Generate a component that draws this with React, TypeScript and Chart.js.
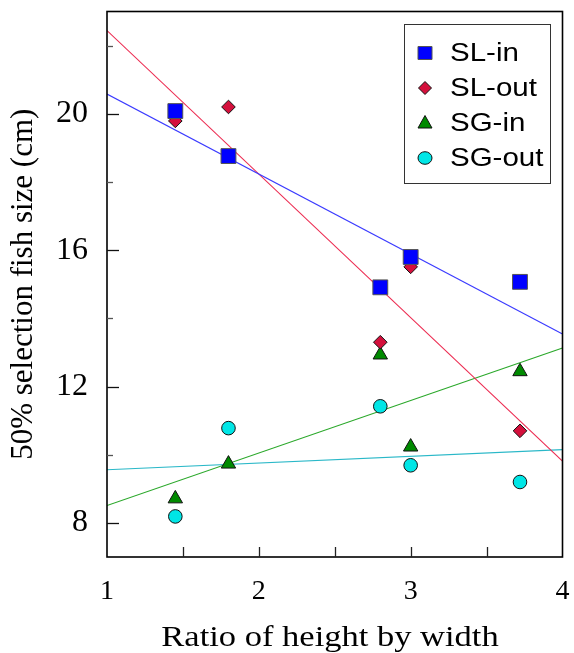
import React, { useEffect, useRef } from "react";
import { Chart, registerables } from "chart.js";

Chart.register(...registerables);

// Height-to-width ratio of the trap mesh (shared by all four groups)
const ratios = [1.45, 1.8, 2.8, 3.0, 3.72];

// 50% selection fish size (cm)
const slIn = [20.08, 18.76, 14.91, 15.8, 15.07];
const slOut = [19.79, 20.2, 13.3, 15.51, 10.7];
const sgIn = [8.71, 9.73, 12.93, 10.23, 12.44];
const sgOut = [8.19, 10.78, 11.42, 9.69, 9.2];

// Fitted regression lines, value at x = 1 and x = 4
const fitX = [1, 4];
const slInFit = [20.58, 13.54];
const slOutFit = [22.44, 9.81];
const sgInFit = [8.51, 13.13];
const sgOutFit = [9.56, 10.15];

// Axis ticks
const xTicks = [1, 2, 3, 4];
const xInnerTicks = [1.5, 2, 2.5, 3, 3.5];
const yMajorTicks = [8, 12, 16, 20];
const yMinorTicks = [10, 14, 18, 22];

const xTitle = "Ratio of height by width";
const yTitle = "50% selection fish size (cm)";

const series = [
  { label: "SL-in", values: slIn, fit: slInFit, style: "rect", fill: "#0000ff", edge: "#555555", line: "#3b3bff" },
  { label: "SL-out", values: slOut, fit: slOutFit, style: "rectRot", fill: "#d4103c", edge: "#111111", line: "#ec2a50" },
  { label: "SG-in", values: sgIn, fit: sgInFit, style: "triangle", fill: "#008a00", edge: "#111111", line: "#2aa82a" },
  { label: "SG-out", values: sgOut, fit: sgOutFit, style: "circle", fill: "#00e6e6", edge: "#111111", line: "#2ab8c8" },
];

const radiusFor: Record<string, number> = { rect: 10.5, rectRot: 6.8, triangle: 8.3, circle: 6.8 };

function drawMarker(ctx: CanvasRenderingContext2D, style: string, x: number, y: number, fill: string, edge: string) {
  ctx.save();
  ctx.fillStyle = fill;
  ctx.strokeStyle = edge;
  ctx.lineWidth = 1;
  ctx.beginPath();
  if (style === "rect") {
    ctx.rect(x - 7, y - 6.5, 14, 13);
  } else if (style === "rectRot") {
    ctx.moveTo(x, y - 6.5);
    ctx.lineTo(x + 6.5, y);
    ctx.lineTo(x, y + 6.5);
    ctx.lineTo(x - 6.5, y);
    ctx.closePath();
  } else if (style === "triangle") {
    ctx.moveTo(x, y - 7.5);
    ctx.lineTo(x + 7, y + 5);
    ctx.lineTo(x - 7, y + 5);
    ctx.closePath();
  } else {
    ctx.ellipse(x, y, 7, 6.3, 0, 0, Math.PI * 2);
  }
  ctx.fill();
  ctx.stroke();
  ctx.restore();
}

// Text drawn with a slight horizontal stretch
function wideText(ctx: CanvasRenderingContext2D, text: string, x: number, y: number, sx: number) {
  ctx.save();
  ctx.translate(x, y);
  ctx.scale(sx, 1);
  ctx.fillText(text, 0, 0);
  ctx.restore();
}

const decorations = {
  id: "decorations",
  afterDatasetsDraw(chart: any) {
    const { ctx, chartArea, scales } = chart;
    const xs = scales.x;
    const ys = scales.y;
    ctx.save();
    // plot frame
    ctx.strokeStyle = "#000";
    ctx.lineWidth = 1.6;
    ctx.strokeRect(chartArea.left, chartArea.top, chartArea.right - chartArea.left, chartArea.bottom - chartArea.top);

    // inward ticks on the left axis
    ctx.lineWidth = 1.3;
    ctx.strokeStyle = "#111";
    yMajorTicks.forEach((v) => {
      const py = Math.round(ys.getPixelForValue(v)) + 0.5;
      ctx.beginPath();
      ctx.moveTo(chartArea.left, py);
      ctx.lineTo(chartArea.left + 12, py);
      ctx.stroke();
    });
    ctx.strokeStyle = "#555";
    yMinorTicks.forEach((v) => {
      const py = Math.round(ys.getPixelForValue(v)) + 0.5;
      ctx.beginPath();
      ctx.moveTo(chartArea.left, py);
      ctx.lineTo(chartArea.left + 6, py);
      ctx.stroke();
    });
    // inward ticks on the bottom axis
    ctx.strokeStyle = "#222";
    xInnerTicks.forEach((v) => {
      const px = Math.round(xs.getPixelForValue(v)) + 0.5;
      ctx.beginPath();
      ctx.moveTo(px, chartArea.bottom);
      ctx.lineTo(px, chartArea.bottom - 10);
      ctx.stroke();
    });
    ctx.restore();
  },
  afterDraw(chart: any) {
    const { ctx, chartArea } = chart;
    ctx.save();
    // legend box
    ctx.strokeStyle = "#333";
    ctx.lineWidth = 1;
    ctx.strokeRect(404.5, 24.5, 146, 159);
    const rows = [53, 88, 123, 158];
    ctx.font = "25px 'Liberation Sans', Arial, sans-serif";
    ctx.fillStyle = "#000";
    ctx.textBaseline = "middle";
    ctx.textAlign = "left";
    series.forEach((s, i) => {
      drawMarker(ctx, s.style, 425, rows[i], s.fill, s.edge);
      wideText(ctx, s.label, 450, rows[i] + 1, 1.18);
    });

    // axis titles
    ctx.font = "30px 'Liberation Serif', 'Times New Roman', serif";
    ctx.textAlign = "center";
    ctx.textBaseline = "alphabetic";
    wideText(ctx, xTitle, 330, 646, 1.15);
    ctx.font = "31px 'Liberation Serif', 'Times New Roman', serif";
    ctx.translate(32, (chartArea.top + chartArea.bottom) / 2);
    ctx.rotate(-Math.PI / 2);
    ctx.fillText(yTitle, 0, 0);
    ctx.restore();
  },
};

function noScalePadding(scale: any) {
  scale.paddingTop = 0;
  scale.paddingBottom = 0;
  scale.paddingLeft = 0;
  scale.paddingRight = 0;
}

export default function App() {
  const canvasRef = useRef<HTMLCanvasElement | null>(null);

  useEffect(() => {
    if (!canvasRef.current) return;
    const pointSets = series.map((s) => ({
      type: "scatter" as const,
      label: s.label,
      data: ratios.map((x, i) => ({ x, y: s.values[i] })),
      pointStyle: s.style,
      pointRadius: radiusFor[s.style],
      pointHoverRadius: radiusFor[s.style],
      backgroundColor: s.fill,
      borderColor: s.edge,
      pointBorderWidth: 1,
      showLine: false,
    }));
    const lineSets = series.map((s) => ({
      type: "line" as const,
      label: s.label + " fit",
      data: fitX.map((x, i) => ({ x, y: s.fit[i] })),
      borderColor: s.line,
      borderWidth: 1.1,
      pointRadius: 0,
      fill: false,
    }));

    const chart = new Chart(canvasRef.current, {
      type: "scatter",
      data: { datasets: [...pointSets, ...lineSets] as any },
      options: {
        responsive: false,
        animation: false,
        layout: { padding: { top: 10, right: 11, left: 0, bottom: 0 } },
        plugins: { legend: { display: false }, tooltip: { enabled: false } },
        scales: {
          x: {
            type: "linear",
            min: 1,
            max: 4,
            grid: { display: false, drawTicks: false },
            border: { display: false },
            afterBuildTicks: (scale: any) => {
              scale.ticks = xTicks.map((v) => ({ value: v }));
            },
            afterFit: (scale: any) => {
              scale.height = 96;
              noScalePadding(scale);
            },
            ticks: {
              padding: 18,
              color: "#000",
              maxRotation: 0,
              autoSkip: false,
              font: { family: "'Liberation Serif', 'Times New Roman', serif", size: 28 },
            },
          },
          y: {
            type: "linear",
            min: 7,
            max: 23,
            grid: { display: false, drawTicks: false },
            border: { display: false },
            afterBuildTicks: (scale: any) => {
              scale.ticks = yMajorTicks.map((v) => ({ value: v }));
            },
            afterFit: (scale: any) => {
              scale.width = 107;
              noScalePadding(scale);
            },
            ticks: {
              padding: 19,
              color: "#000",
              autoSkip: false,
              font: { family: "'Liberation Serif', 'Times New Roman', serif", size: 32 },
            },
          },
        },
      },
      plugins: [decorations],
    });
    return () => chart.destroy();
  }, []);

  return (
    <div style={{ position: "absolute", left: 0, top: 0, width: 574, height: 653, background: "#fff" }}>
      <canvas ref={canvasRef} width={574} height={653} />
    </div>
  );
}
